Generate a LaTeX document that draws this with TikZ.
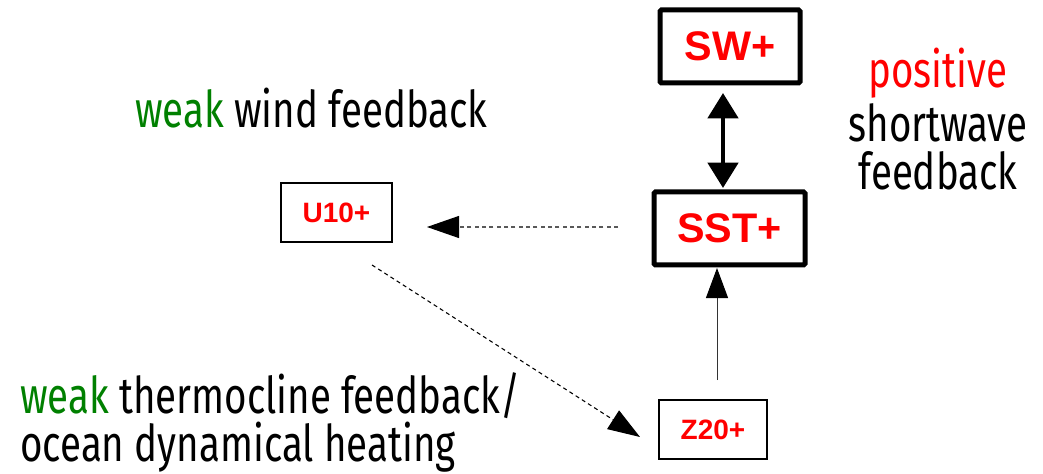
\documentclass[tikz,border=0pt]{standalone}
\usepackage{fontspec}
\setmainfont{Fira Sans}[FakeStretch=0.76]
\newfontfamily\boxfont{Liberation Sans}
\usetikzlibrary{arrows.meta,calc}
\definecolor{wgreen}{RGB}{0,128,0}
\definecolor{pred}{RGB}{255,0,0}
\begin{document}
\begin{tikzpicture}[x=0.75pt,y=-0.75pt,
  bigbox/.style={draw, line width=3.75pt, rounded corners=1pt, inner sep=0pt, outer sep=0pt,
    minimum height=54.75pt, text=pred, font=\boxfont\bfseries\fontsize{31}{31}\selectfont},
  smallbox/.style={draw, line width=1.6pt, inner sep=0pt, outer sep=0pt,
    minimum height=44.25pt, text=pred, font=\boxfont\bfseries\fontsize{21}{21}\selectfont},
  lbl/.style={inner sep=0pt, font=\fontsize{38}{38}\selectfont},
  dbl/.style={line width=3.5pt, {Triangle[length=19pt,width=22.5pt]}-{Triangle[length=19pt,width=22.5pt]}},
  dsh/.style={line width=0.8pt, dash pattern=on 3pt off 2.5pt, -{Triangle[length=24pt,width=16.5pt,color=black]}},
  sol/.style={line width=0.75pt, -{Triangle[length=22.5pt,width=16.5pt,color=black]}}
]
\useasboundingbox (0,0) rectangle (1043,474);

\node[bigbox, minimum width=105pt] (sw) at (730,46.5) {SW+};
\node[bigbox, minimum width=113.25pt] (sst) at (729.5,228.5) {SST+};
\node[smallbox, minimum width=83.25pt] (u10) at (336.5,212.5) {U10+};
\node[smallbox, minimum width=81pt] (z20) at (713,429.5) {Z20+};

\node[lbl, anchor=base west] (lw) at (135,128) {\textcolor{wgreen}{weak} wind feedback};
\node[lbl, anchor=base] (p1) at (938,88) {\textcolor{pred}{positive}};
\node[lbl, anchor=base] (p2) at (938,142) {shortwave};
\node[lbl, anchor=base] (p3) at (938,190) {feedback};
\node[lbl, anchor=base west] (t1) at (20,413) {\textcolor{wgreen}{weak} thermocline feedback/};
\node[lbl, anchor=base west] (t2) at (20,461) {ocean dynamical heating};

\draw[dbl] ($(sw.south)+(-7,10)$) -- ($(sst.north)+(-6.5,-4)$);
\draw[dsh, draw=black!65] ($(sst.west)+(-36,-1.5)$) -- ($(u10.east)+(35,14.5)$);
\draw[dsh] ($(u10.south)+(35.5,23)$) -- ($(z20.west)+(-19,7.5)$);
\draw[sol, draw=black!80] ($(z20.north)+(4,-20)$) -- ($(sst.south)+(-12.5,3)$);
\end{tikzpicture}
\end{document}
